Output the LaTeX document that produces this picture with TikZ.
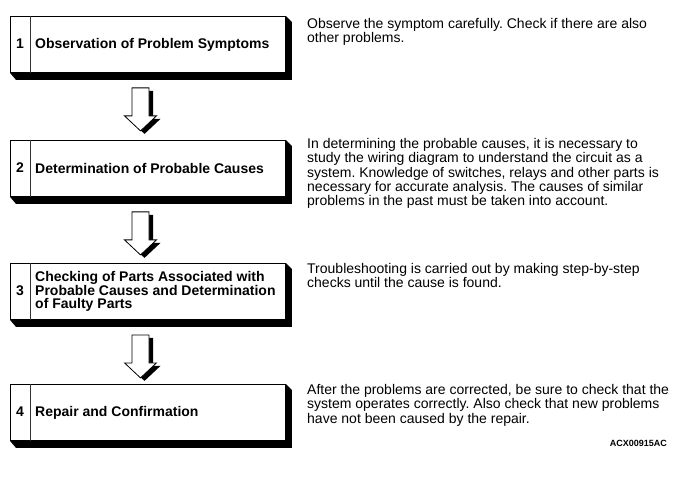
\documentclass[tikz,border=0pt]{standalone}
\usepackage{fontspec}
\setmainfont{Liberation Sans}
\usetikzlibrary{calc}
\frenchspacing
\begin{document}
\begin{tikzpicture}[x=1pt,y=-1pt,
  stepbox/.style={draw=black, line width=0.9pt, fill=white, minimum width=275pt, minimum height=56pt, inner sep=0pt, anchor=north west},
  boxshadow/.style={fill=black},
  divider/.style={draw=black!80, line width=0.7pt},
  numtext/.style={font=\fontsize{14}{13.4}\selectfont\bfseries, inner sep=0pt},
  titletext/.style={font=\fontsize{14}{13.4}\selectfont\bfseries, inner sep=0pt, anchor=west, align=left},
  desctext/.style={font=\fontsize{14}{14.4}\selectfont, inner sep=0pt, anchor=north west, align=left},
  arrowbody/.style={fill=white, draw=black, line width=0.8pt, line join=miter},
  arrowshadow/.style={fill=black}
]
\useasboundingbox (0,0) rectangle (682,478);

% boxes
\node[stepbox] (b1) at (10,16) {};
\node[stepbox] (b2) at (10,140) {};
\node[stepbox] (b3) at (10,263) {};
\node[stepbox] (b4) at (10,384) {};

\foreach \b in {b1,b2,b3,b4}{
  \fill[boxshadow] (\b.north east) -- ($(\b.north east)+(6,6)$) -- ($(\b.south east)+(6,7)$)
     -- ($(\b.south west)+(6,7)$) -- (\b.south west) -- (\b.south east) -- cycle;
  \draw[divider] ($(\b.north west)+(20,0)$) -- ($(\b.south west)+(20,0)$);
}

% numbers and titles
\node[numtext] (n1) at ($(b1.west)+(10,-1)$) {1};
\node[numtext] (n2) at ($(b2.west)+(10,-1)$) {2};
\node[numtext] (n3) at ($(b3.west)+(10,-1)$) {3};
\node[numtext] (n4) at ($(b4.west)+(10,-1)$) {4};

\node[titletext] (t1) at ($(b1.west)+(25,0)$) {Observation of Problem Symptoms};
\node[titletext] (t2) at ($(b2.west)+(25,0)$) {Determination of Probable Causes};
\node[titletext] (t3) at ($(b3.west)+(25,0)$) {Checking of Parts Associated with\\Probable Causes and Determination\\of Faulty Parts};
\node[titletext] (t4) at ($(b4.west)+(25,0)$) {Repair and Confirmation};

% block arrows between boxes
\foreach \b/\c in {b1/b2,b2/b3,b3/b4}{
  \coordinate (a\b) at ($(\b.south west)+(130.5,15)$);
  \fill[arrowshadow] ($(a\b)+(-4.5,3)$) -- ++(17,0) -- ++(0,28) -- ++(7.5,0) -- ++(-16,15) -- ++(-16,-15) -- ++(7.5,0) -- cycle;
  \path[arrowbody] ($(a\b)+(-8.5,0)$) -- ++(17,0) -- ++(0,28) -- ++(7.5,0) -- ++(-16,15) -- ++(-16,-15) -- ++(7.5,0) -- cycle;
}

% descriptions
\node[desctext] (d1) at (307,18) {Observe the symptom carefully. Check if there are also\\other problems.};
\node[desctext] (d2) at (307,138) {In determining the probable causes, it is necessary to\\study the wiring diagram to understand the circuit as a\\system. Knowledge of switches, relays and other parts is\\necessary for accurate analysis. The causes of similar\\problems in the past must be taken into account.};
\node[desctext] (d3) at (307,263) {Troubleshooting is carried out by making step-by-step\\checks until the cause is found.};
\node[desctext] (d4) at (307,384) {After the problems are corrected, be sure to check that the\\system operates correctly. Also check that new problems\\have not been caused by the repair.};

\node[font=\fontsize{9}{10}\selectfont\bfseries, inner sep=0pt, anchor=east] (code) at (667,443) {ACX00915AC};
\end{tikzpicture}
\end{document}
